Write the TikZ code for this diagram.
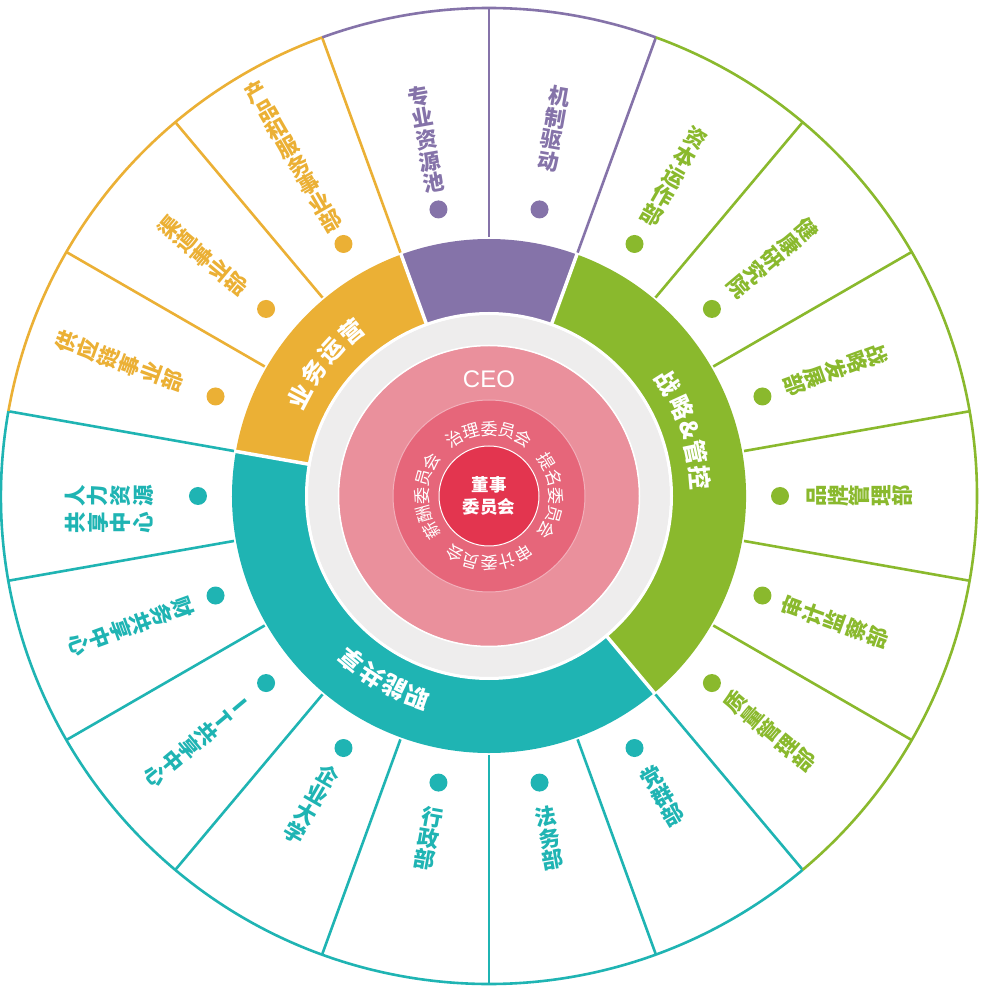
\documentclass[tikz,border=0pt]{standalone}
\usepackage{fontspec}
\setmainfont{Liberation Sans}
\newfontfamily\cjk{Noto Sans CJK SC}
\definecolor{cpur}{HTML}{8573A9}
\definecolor{corg}{HTML}{EBB035}
\definecolor{cgrn}{HTML}{8AB92D}
\definecolor{ctea}{HTML}{1FB4B3}
\definecolor{cgry}{HTML}{EEEDED}
\definecolor{cpka}{HTML}{EA909C}
\definecolor{cpkb}{HTML}{E6667A}
\definecolor{cred}{HTML}{E3354F}
\definecolor{cpkl}{HTML}{F2AFBA}
\tikzset{
  olabel/.style={inner sep=0pt, align=center},
  cmlabel/.style={font=\cjk\fontsize{17}{17}\selectfont, text=white, inner sep=0pt},
  rglabel/.style={font=\cjk\bfseries\fontsize{24}{24}\selectfont, text=white, inner sep=0pt},
  dotnode/.style={circle, minimum size=18pt, inner sep=0pt},
  spoke/.style={line width=2.6pt},
  rim/.style={line width=2.6pt},
}
% name, theta, middle radius, rotation, colour, line skip, stacked text
\newcommand\olab[7]{%
  \node[olabel, text=#5, rotate=#4, font=\cjk\bfseries\fontsize{21.5}{#6}\selectfont]
    (#1) at (#2:#3) {#7};}
% name, style, radius, angle/char pairs
\newcommand\arclab[4]{%
  \foreach \an/\ch [count=\k from 0] in {#4}{%
    \pgfmathsetmacro\rt{\an-90}
    \node[#2, rotate=\rt] (#1\k) at (\an:#3) {\ch};
  }}
\newcommand\ringseg[3]{%
  \fill[#1] (#2:183) arc[start angle=#2, end angle=#3, radius=183]
    -- (#3:257) arc[start angle=#3, end angle=#2, radius=257] -- cycle;}
\begin{document}
\begin{tikzpicture}[x=1pt, y=1pt]
\useasboundingbox (-489,-496) rectangle (493,496);
\fill[white] (-489,-496) rectangle (493,496);

% coloured ring
\ringseg{cpur}{70}{110}
\ringseg{corg}{110}{170}
\ringseg{ctea}{170}{310}
\ringseg{cgrn}{310}{430}
\foreach \a in {70,110,170,310}{\draw[white, line width=3.5pt] (\a:175) -- (\a:262);}

% centre discs
\fill[cgry] (0,0) circle[radius=181];
\draw[white, line width=3pt] (0,0) circle[radius=182.5];
\fill[cpka] (0,0) circle[radius=150];
\draw[white, line width=1.5pt] (0,0) circle[radius=150.5];
\fill[cpkb] (0,0) circle[radius=96];
\draw[cpkl, line width=1pt] (0,0) circle[radius=96];
\fill[cred] (0,0) circle[radius=50];
\draw[white, line width=1pt] (0,0) circle[radius=50];

% spokes
\foreach \a in {70,90}{\draw[spoke, cpur] (\a:259) -- (\a:488);}
\foreach \a in {110,130,150}{\draw[spoke, corg] (\a:259) -- (\a:488);}
\foreach \a in {170,190,...,310}{\draw[spoke, ctea] (\a:259) -- (\a:488);}
\foreach \a in {-30,-10,...,50}{\draw[spoke, cgrn] (\a:259) -- (\a:488);}

% rim
\draw[rim, cpur] (70:488) arc[start angle=70, end angle=110, radius=488];
\draw[rim, corg] (110:488) arc[start angle=110, end angle=170, radius=488];
\draw[rim, ctea] (170:488) arc[start angle=170, end angle=310, radius=488];
\draw[rim, cgrn] (310:488) arc[start angle=310, end angle=430, radius=488];

% dots
\foreach \a in {80,100}{\node[dotnode, fill=cpur] (dot\a) at (\a:291) {};}
\foreach \a in {120,140,160}{\node[dotnode, fill=corg] (dot\a) at (\a:291) {};}
\foreach \a in {180,200,...,300}{\node[dotnode, fill=ctea] (dot\a) at (\a:291) {};}
\foreach \a in {320,340,...,420}{\node[dotnode, fill=cgrn] (dot\a) at (\a:291) {};}

% outer labels (upper half: read from the rim inwards)
\olab{la}{100}{362}{10}{cpur}{22}{专\\业\\资\\源\\池}
\olab{lb}{80}{373}{-10}{cpur}{22}{机\\制\\驱\\动}
\olab{lc}{60}{369}{-30}{cgrn}{22}{资\\本\\运\\作\\部}
\olab{ld}{40}{370}{-50}{cgrn}{22}{健\\康\\研\\究\\院}
\olab{le}{20}{369}{-70}{cgrn}{22}{战\\略\\发\\展\\部}
\olab{lf}{120}{392}{30}{corg}{21.4}{产\\品\\和\\服\\务\\事\\业\\部}
\olab{lg}{140}{374}{50}{corg}{22}{渠\\道\\事\\业\\部}
\olab{lh}{160}{393.5}{70}{corg}{22.6}{供\\应\\链\\事\\业\\部}
\olab{li}{180}{380}{90}{ctea}{22.6}{人\\力\\资\\源}
\node[olabel, text=ctea, rotate=90, font=\cjk\bfseries\fontsize{21.5}{22.6}\selectfont]
  (lj) at (-380,-27) {共\\享\\中\\心};
% outer labels (lower half: read from the centre outwards)
\olab{lk}{0}{371}{90}{cgrn}{21.5}{品\\牌\\管\\理\\部}
\olab{ll}{-20}{368}{70}{cgrn}{22.5}{审\\计\\监\\察\\部}
\olab{lm}{-40}{366}{50}{cgrn}{22.5}{质\\量\\管\\理\\部}
\olab{ln}{-60}{346.5}{30}{ctea}{21.5}{党\\群\\部}
\olab{lo}{-80}{347.5}{10}{ctea}{21.5}{法\\务\\部}
\olab{lp}{-100}{347.5}{-10}{ctea}{21.5}{行\\政\\部}
\olab{lq}{-120}{356}{-30}{ctea}{22}{企\\业\\大\\学}
\olab{lr}{-140}{381}{-50}{ctea}{22}{I\\T\\共\\享\\中\\心}
\olab{ls}{-160}{381}{-70}{ctea}{22}{财\\务\\共\\享\\中\\心}

% ring labels
\arclab{ra}{rglabel}{214}{152.3/业,144.8/务,137.3/运,129.8/营}
\arclab{rb}{rglabel}{212}{32.4/战,24.6/略,18.4/\&,11.9/管,5/控}
\arclab{rc}{rglabel}{214}{250.5/职,243.7/能,236.9/共,230.1/享}

% committees
\arclab{ca}{cmlabel}{67}{121/治,105.5/理,90/委,74.5/员,59/会}
\arclab{cb}{cmlabel}{67}{31/提,15.5/名,0/委,-15.5/员,-31/会}
\arclab{cc}{cmlabel}{67}{-59/审,-74.5/计,-90/委,-105.5/员,-121/会}
\arclab{cd}{cmlabel}{67}{211/薪,195.5/酬,180/委,164.5/员,149/会}

\node[font=\fontsize{24}{24}\selectfont, text=white] (ceo) at (0,117) {CEO};
\node[align=center, font=\cjk\bfseries\fontsize{17.5}{22}\selectfont, text=white] (board) at (0,0) {董事\\委员会};
\end{tikzpicture}
\end{document}
